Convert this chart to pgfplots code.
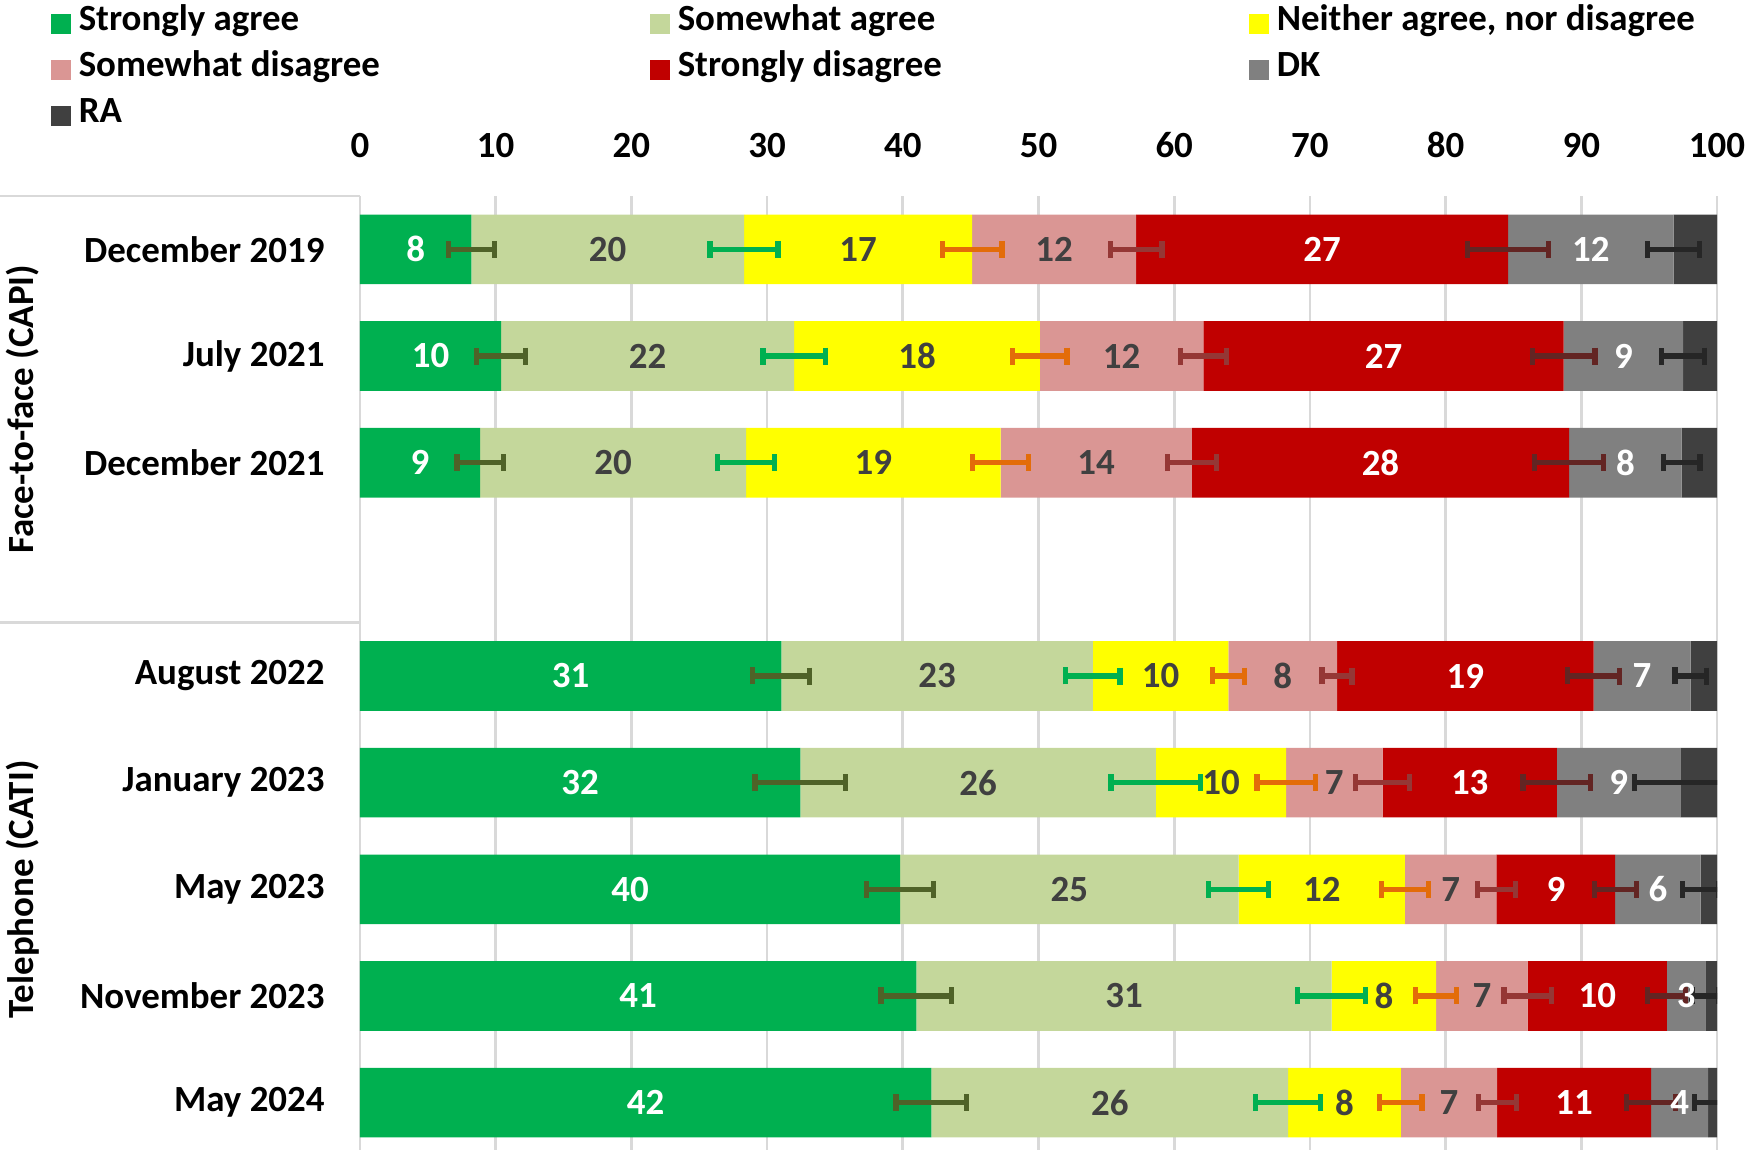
\documentclass[border=0pt]{standalone}
\usepackage{fontspec}
\setmainfont{Carlito}
\usepackage{pgfplots}
\pgfplotsset{compat=1.18}
\usepackage{pgfplotstable}

\definecolor{sa}{HTML}{00B050}
\definecolor{swa}{HTML}{C4D79B}
\definecolor{nei}{HTML}{FFFF00}
\definecolor{swd}{HTML}{DA9694}
\definecolor{sd}{HTML}{C00000}
\definecolor{dk}{HTML}{808080}
\definecolor{ra}{HTML}{404040}
\definecolor{esa}{HTML}{4F6228}
\definecolor{eswa}{HTML}{00B050}
\definecolor{enei}{HTML}{E36C09}
\definecolor{eswd}{HTML}{953735}
\definecolor{esd}{HTML}{632523}
\definecolor{edk}{HTML}{262626}
\definecolor{txt}{HTML}{404040}
\definecolor{gridgray}{HTML}{D9D9D9}

\newcommand\chartfont{\fontsize{10.5}{12}\selectfont\bfseries}

% y: 8 = December 2019 ... 0 = May 2024, row 5 is the empty gap
% segment shares, then the +/- error of each cumulative end
\pgfplotstableread{
y sa swa nei swd sd dk ra esa eswa enei eswd esd edk
8 8.2 20.1 16.8 12.1 27.4 12.2 3.2 1.7 2.5 2.2 1.9 3.0 1.9
7 10.4 21.6 18.1 12.05 26.55 8.8 2.5 1.8 2.3 2.0 1.7 2.3 1.6
6 8.85 19.6 18.75 14.1 27.8 8.3 2.6 1.7 2.1 2.05 1.8 2.55 1.35
4 31.05 22.95 10.0 8.0 18.9 7.15 1.95 2.1 2.0 1.2 1.1 1.9 1.15
3 32.45 26.2 9.6 7.1 12.85 9.1 2.7 3.35 3.3 2.15 2.0 2.5 3.4
2 39.8 24.95 12.25 6.75 8.75 6.3 1.2 2.45 2.2 1.75 1.4 1.55 1.35
1 41.0 30.6 7.7 6.75 10.25 2.85 0.85 2.6 2.5 1.5 1.75 1.4 1.0
0 42.1 26.3 8.3 7.1 11.35 4.2 0.65 2.6 2.4 1.55 1.4 1.8 1.0
}\survey

\pgfplotsset{
  base/.style={
    at={(36mm,-0.6mm)}, anchor=south west,
    scale only axis, width=135.7mm, height=96.0mm,
    xbar stacked, bar width=0.653,
    xmin=0, xmax=100, ymin=-0.5, ymax=8.5,
    /pgf/number format/assume math mode=true,
  },
  seg/.style={fill=#1, draw=none},
  lab/.style n args={2}{
    draw=none, fill=none,
    every node near coord/.append style={text=#1, anchor=center},
    error bars/.cd, x dir=both, x explicit, error mark=|,
    error bar style={#2, line width=1.5pt},
    error mark options={#2, line width=1.5pt, mark size=0.85mm},
  },
}

\begin{document}
\begin{tikzpicture}
\useasboundingbox (0,0) rectangle (174.9mm,115mm);

\begin{axis}[base,
  clip=false,
  axis line style={draw=none},
  major tick length=0pt,
  xtick={0,10,...,100},
  xticklabel pos=upper,
  xticklabel style={font=\chartfont, yshift=2.55mm},
  ytick={0,1,2,3,4,6,7,8},
  yticklabels={May 2024, November 2023, May 2023, January 2023, August 2022,
    December 2021, July 2021, December 2019},
  yticklabel style={font=\chartfont, xshift=-2.3mm},
  xmajorgrids, grid style={gridgray, line width=0.75pt},
  legend columns=3,
  legend cell align=left,
  legend style={at={(axis description cs:-0.2284,1.2042)}, anchor=north west,
    draw=none, fill=none, inner sep=0pt, column sep=0.8mm, row sep=0pt,
    font=\chartfont, nodes={inner sep=0pt, text height=3.0mm, text depth=1.6mm}},
  legend image code/.code={\fill[#1] (0mm,-1mm) rectangle (2mm,1mm);},
]
\addplot[seg=sa] table[x=sa, y=y] {\survey};
\addlegendentry{\makebox[56.3mm][l]{Strongly agree}}
\addplot[seg=swa] table[x=swa, y=y] {\survey};
\addlegendentry{\makebox[56.3mm][l]{Somewhat agree}}
\addplot[seg=nei] table[x=nei, y=y] {\survey};
\addlegendentry{Neither agree, nor disagree}
\addplot[seg=swd] table[x=swd, y=y] {\survey};
\addlegendentry{Somewhat disagree}
\addplot[seg=sd] table[x=sd, y=y] {\survey};
\addlegendentry{Strongly disagree}
\addplot[seg=dk] table[x=dk, y=y] {\survey};
\addlegendentry{DK}
\addplot[seg=ra] table[x=ra, y=y] {\survey};
\addlegendentry{RA}

\draw[gridgray, line width=0.75pt] (axis cs:0,8.5) -- ([xshift=-36mm]axis cs:0,8.5);
\draw[gridgray, line width=0.75pt] (axis cs:0,4.5) -- ([xshift=-36mm]axis cs:0,4.5);
\node[rotate=90, font=\chartfont] at ([xshift=-33.7mm]axis cs:0,6.5) {Face-to-face (CAPI)};
\node[rotate=90, font=\chartfont] at ([xshift=-33.7mm]axis cs:0,2) {Telephone (CATI)};
\end{axis}

% second, invisible copy of the stack: error bars and labels on top
\begin{axis}[base,
  hide axis,
  point meta=explicit,
  nodes near coords={\pgfmathprintnumber[fixed,precision=0]{\pgfplotspointmeta}},
  every node near coord/.append style={font=\chartfont},
]
\addplot[lab={white}{esa}] table[x=sa, y=y, x error=esa, meta=sa] {\survey};
\addplot[lab={txt}{eswa}] table[x=swa, y=y, x error=eswa, meta=swa] {\survey};
\addplot[lab={txt}{enei}] table[x=nei, y=y, x error=enei, meta=nei] {\survey};
\addplot[lab={txt}{eswd}] table[x=swd, y=y, x error=eswd, meta=swd] {\survey};
\addplot[lab={white}{esd}] table[x=sd, y=y, x error=esd, meta=sd] {\survey};
\addplot[lab={white}{edk}] table[x=dk, y=y, x error=edk, meta=dk] {\survey};
\end{axis}
\end{tikzpicture}
\end{document}
